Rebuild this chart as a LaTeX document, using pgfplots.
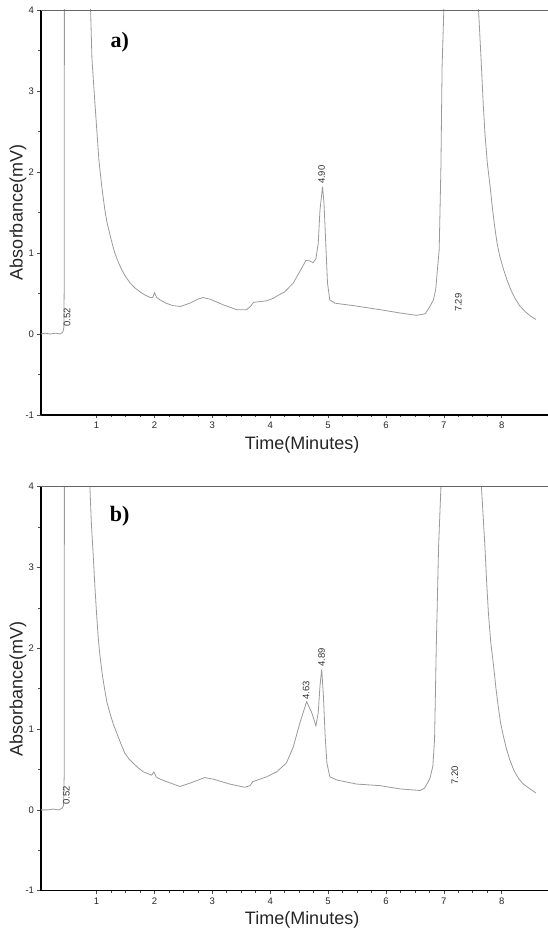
\documentclass[border=0pt]{standalone}
\usepackage{fontspec}
\setmainfont{Liberation Sans}
\newfontfamily\serifbold{Liberation Serif}
\usepackage{pgfplots}
\pgfplotsset{compat=1.18}
\definecolor{curve}{HTML}{9A9A9A}
\pgfplotsset{chrom/.style={
  scale only axis, width=507pt, anchor=south west,
  xmin=0.04, xmax=8.80, ymin=-1, ymax=4,
  axis x line*=bottom, axis y line*=left,
  axis line style={black, line width=1.5pt},
  xtick={1,...,8}, ytick={-1,0,...,4},
  minor x tick num=3, minor y tick num=1,
  tick align=outside, major tick length=3.5pt, minor tick length=2.5pt,
  every tick/.style={black!70, line width=0.6pt},
  tick label style={font=\fontsize{9.5}{11}\selectfont, text=black!85},
  /pgf/number format/assume math mode=true,
  xlabel={Time(Minutes)}, ylabel={Absorbance(mV)},
  label style={font=\fontsize{18}{20}\selectfont, text=black!85},
  xlabel style={at={(axis description cs:0.515,-0.073)}, anchor=center},
  ylabel style={at={(axis description cs:-0.0454,0.5)}, anchor=center},
}}
\tikzset{pk/.style={rotate=90, anchor=west, inner sep=0pt, font=\fontsize{9.5}{11}\selectfont, text=black!80}}
\begin{document}
\begin{tikzpicture}
\path[use as bounding box] (0,0) rectangle (548pt,929pt);
\begin{axis}[chrom, name=A, at={(41pt,514pt)}, height=405pt]
\addplot[curve, line width=0.8pt] coordinates {
(0.04,0.00) (0.10,0.01) (0.20,0.00) (0.30,0.01) (0.38,0.00) (0.42,0.03) (0.435,0.08)
(0.44,0.5) (0.445,4.6) (0.88,4.6) (0.897,4.0) (0.92,3.40) (0.96,2.97) (1.00,2.56)
(1.04,2.15) (1.09,1.82) (1.14,1.55) (1.18,1.38) (1.23,1.23) (1.28,1.09) (1.32,0.99)
(1.38,0.88) (1.43,0.80) (1.50,0.71) (1.58,0.63) (1.66,0.57) (1.75,0.52) (1.84,0.48)
(1.93,0.45) (1.97,0.45) (2.00,0.51) (2.04,0.45) (2.10,0.42) (2.20,0.38) (2.32,0.35)
(2.45,0.34) (2.61,0.38) (2.75,0.43)
(2.84,0.45) (2.96,0.43) (3.19,0.36) (3.42,0.30) (3.59,0.30) (3.66,0.34) (3.71,0.39)
(3.94,0.41) (4.05,0.44) (4.17,0.49) (4.25,0.52) (4.40,0.63) (4.51,0.77) (4.62,0.91)
(4.69,0.90) (4.74,0.88) (4.79,0.93) (4.83,1.12) (4.86,1.53) (4.905,1.82) (4.93,1.61)
(4.96,1.12) (4.99,0.63) (5.03,0.42) (5.12,0.38) (5.44,0.35) (5.90,0.30) (6.24,0.26)
(6.53,0.23) (6.68,0.25) (6.76,0.34) (6.82,0.42) (6.86,0.55) (6.89,0.80) (6.92,1.04)
(6.95,2.07) (6.97,3.30) (7.00,4.0) (7.02,4.6) (7.58,4.6) (7.60,4.0) (7.65,3.30)
(7.68,2.85) (7.71,2.48) (7.75,2.12) (7.80,1.82) (7.84,1.55) (7.88,1.32) (7.92,1.12)
(7.97,0.95) (8.03,0.80) (8.09,0.67) (8.16,0.54) (8.23,0.44) (8.31,0.35) (8.40,0.28)
(8.50,0.22) (8.59,0.18)};
\node[font=\serifbold\bfseries\fontsize{22}{24}\selectfont] at (axis cs:1.40,3.60) {a)};
\node[pk] at (axis cs:0.49,0.09) {0.52};
\node[pk] at (axis cs:4.89,1.85) {4.90};
\node[pk] at (axis cs:7.25,0.27) {7.29};
\end{axis}
\draw[black!60, line width=0.8pt] (A.north west) -- (A.north east);
\begin{axis}[chrom, name=B, at={(41pt,38.3pt)}, height=404pt]
\addplot[curve, line width=0.8pt] coordinates {
(0.04,0.00) (0.15,0.00) (0.25,0.01) (0.35,0.00) (0.40,0.02) (0.43,0.05) (0.44,0.4)
(0.445,4.6) (0.87,4.6) (0.885,4.0) (0.91,3.55) (0.94,3.18) (0.97,2.78) (1.00,2.43)
(1.03,2.12) (1.06,1.90) (1.10,1.67) (1.14,1.49) (1.18,1.33) (1.23,1.20) (1.29,1.06)
(1.35,0.95) (1.42,0.82) (1.49,0.70) (1.56,0.63) (1.63,0.58) (1.72,0.52) (1.81,0.47)
(1.95,0.43) (1.99,0.47) (2.03,0.41) (2.07,0.39)
(2.21,0.35) (2.44,0.29) (2.61,0.33) (2.87,0.40) (3.02,0.38) (3.30,0.32)
(3.56,0.28) (3.65,0.30) (3.70,0.35) (3.94,0.41) (4.11,0.47) (4.28,0.58) (4.40,0.78)
(4.51,1.07) (4.63,1.34) (4.72,1.20) (4.79,1.04) (4.83,1.20) (4.86,1.53) (4.89,1.74)
(4.92,1.40) (4.95,0.91) (4.98,0.58) (5.03,0.41) (5.15,0.37) (5.49,0.32) (5.90,0.30)
(6.24,0.26) (6.59,0.24) (6.67,0.27) (6.76,0.39) (6.81,0.54) (6.84,0.87) (6.87,2.03)
(6.91,3.27) (6.95,4.0) (6.97,4.6) (7.63,4.6) (7.65,4.0) (7.71,3.26) (7.74,2.82)
(7.77,2.44) (7.81,2.08) (7.86,1.78) (7.90,1.51) (7.94,1.28) (7.98,1.08) (8.03,0.91)
(8.08,0.76) (8.14,0.62) (8.21,0.49) (8.29,0.39) (8.36,0.33) (8.43,0.29) (8.51,0.25)
(8.59,0.21)};
\node[font=\serifbold\bfseries\fontsize{22}{24}\selectfont] at (axis cs:1.40,3.63) {b)};
\node[pk] at (axis cs:0.48,0.06) {0.52};
\node[pk] at (axis cs:4.62,1.36) {4.63};
\node[pk] at (axis cs:4.89,1.77) {4.89};
\node[pk] at (axis cs:7.19,0.31) {7.20};
\end{axis}
\draw[black!60, line width=0.8pt] (B.north west) -- (B.north east);
\end{tikzpicture}
\end{document}
